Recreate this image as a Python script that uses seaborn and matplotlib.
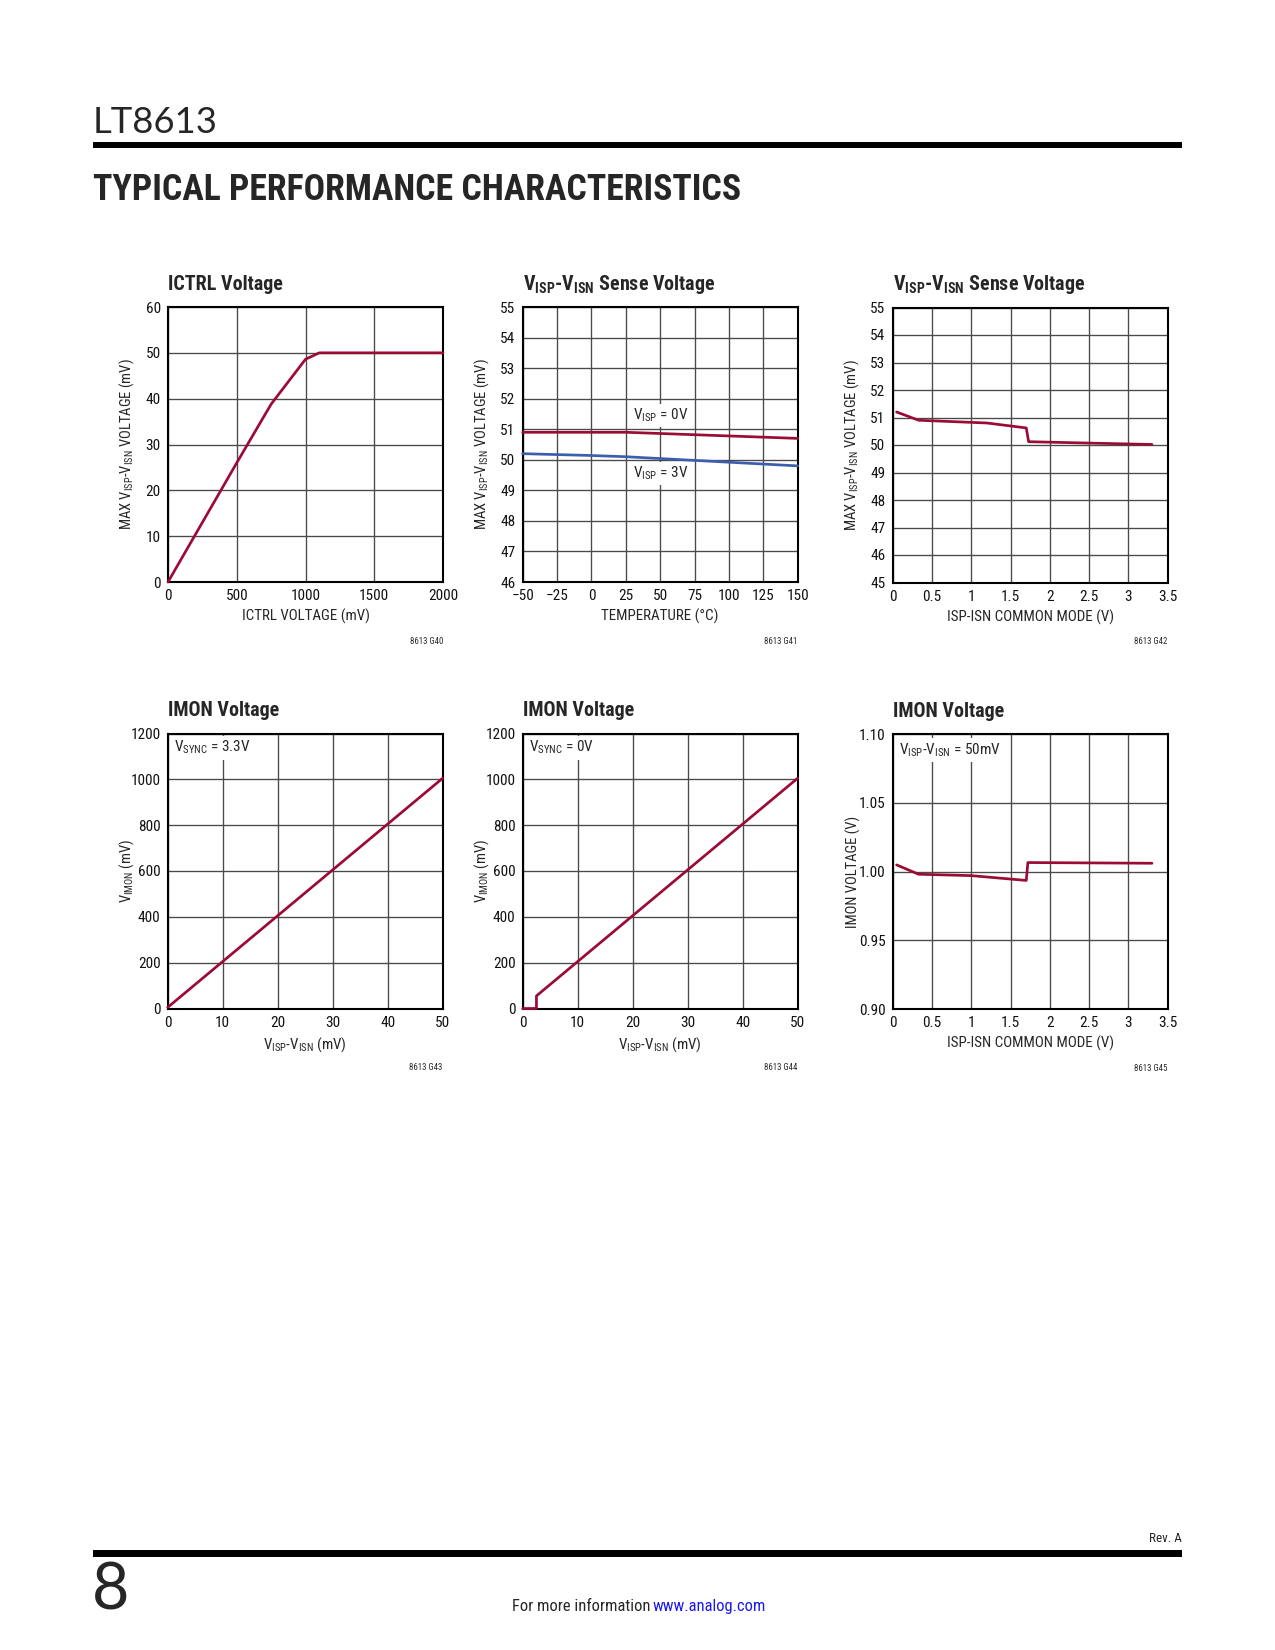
import matplotlib
matplotlib.use("Agg")
import matplotlib.pyplot as plt
from matplotlib.patches import Rectangle
import pandas as pd
import seaborn as sns

# ---- data ----
ictrl_mv = [0, 500, 750, 1000, 1100, 2000]
ictrl_sense_mv = [0, 26.0, 38.8, 48.6, 50.0, 50.0]

temp_c = [-50, -25, 0, 25, 50, 75, 100, 125, 150]
sense_visp0 = [50.9, 50.9, 50.9, 50.9, 50.86, 50.82, 50.78, 50.74, 50.70]
sense_visp3 = [50.2, 50.17, 50.14, 50.1, 50.04, 49.98, 49.92, 49.86, 49.80]

cm_v = [0.05, 0.33, 1.2, 1.7, 1.73, 2.5, 3.3]
sense_cm_mv = [51.2, 50.9, 50.8, 50.62, 50.12, 50.07, 50.02]

imon_in_mv = [0, 50]
imon_sync33_mv = [5, 1005]
imon_in0_mv = [0, 2.5, 2.5, 50]
imon_sync0_mv = [0, 0, 55, 1005]

imon_cm_v = [0.05, 0.33, 1.0, 1.7, 1.72, 3.3]
imon_cm_volt = [1.0048, 0.998, 0.997, 0.9935, 1.0065, 1.006]

RED = "#9a0b36"
BLUE = "#3d5dae"
W, H = 1275, 1650

sns.set_theme(style="whitegrid")
NARROW = ["Liberation Sans Narrow", "Roboto Condensed", "DejaVu Sans"]
plt.rcParams["font.family"] = NARROW
plt.rcParams["mathtext.default"] = "regular"

fig = plt.figure(figsize=(8.5, 11), dpi=150)
fig.patch.set_facecolor("white")


def fx(px):
    return px / W


def fy(py):
    return 1 - py / H


def make_ax(left, top, size=275):
    ax = fig.add_axes([fx(left), fy(top + size), size / W, size / H])
    ax.set_facecolor("white")
    ax.grid(True, color="#4a4a4a", linewidth=0.65)
    for s in ax.spines.values():
        s.set_color("black")
        s.set_linewidth(1.0)
    ax.tick_params(length=0, labelsize=7.3, pad=3.5, colors="#111111")
    return ax


def finish(ax, title, xlabel, ylabel, note, xlim, ylim, xticks, yticks,
           xtl=None, ytl=None):
    ax.set_xlim(*xlim)
    ax.set_ylim(*ylim)
    ax.set_xticks(xticks)
    ax.set_yticks(yticks)
    if xtl is not None:
        ax.set_xticklabels(xtl)
    if ytl is not None:
        ax.set_yticklabels(ytl)
    ax.set_xlabel(xlabel, fontsize=7.2)
    ax.set_ylabel(ylabel, fontsize=7.0)
    ax.xaxis.set_label_coords(0.5, -0.097)
    ax.yaxis.set_label_coords(-0.117, 0.5)
    ax.text(0, 1.063, title, transform=ax.transAxes, fontsize=9.6,
            fontweight="bold", ha="left", va="baseline")
    ax.text(1.0, -0.215, note, transform=ax.transAxes, fontsize=4.2,
            ha="right", va="center")
    if ax.get_legend() is not None:
        ax.get_legend().remove()


def line(ax, x, y, color=RED):
    df = pd.DataFrame({"x": x, "y": y})
    sns.lineplot(data=df, x="x", y="y", ax=ax, color=color, linewidth=1.3,
                 estimator=None, sort=False, zorder=3, clip_on=False)


vispvisn = r"$\mathregular{V_{ISP}}$-$\mathregular{V_{ISN}}$"
box = dict(facecolor="white", edgecolor="none", pad=1.5)

# ---- top row ----
ax1 = make_ax(168, 307)
line(ax1, ictrl_mv, ictrl_sense_mv)
finish(ax1, "ICTRL Voltage", "ICTRL VOLTAGE (mV)",
       "MAX " + vispvisn + " VOLTAGE (mV)", "8613 G40",
       (0, 2000), (0, 60), range(0, 2001, 500), range(0, 61, 10))

ax2 = make_ax(522.7, 307)
line(ax2, temp_c, sense_visp0, RED)
line(ax2, temp_c, sense_visp3, BLUE)
finish(ax2, vispvisn + " Sense Voltage", "TEMPERATURE (°C)",
       "MAX " + vispvisn + " VOLTAGE (mV)", "8613 G41",
       (-50, 150), (46, 55), temp_c, range(46, 56),
       xtl=[str(t).replace("-", "\u2212") for t in temp_c])
ax2.text(30, 51.45, r"$\mathregular{V_{ISP}}$ = 0V", fontsize=7.3,
         va="center", ha="left", bbox=box)
ax2.text(30, 49.55, r"$\mathregular{V_{ISP}}$ = 3V", fontsize=7.3,
         va="center", ha="left", bbox=box)

ax3 = make_ax(892.7, 307.5)
line(ax3, cm_v, sense_cm_mv)
cm_ticks = [0, 0.5, 1, 1.5, 2, 2.5, 3, 3.5]
cm_tl = ["0", "0.5", "1", "1.5", "2", "2.5", "3", "3.5"]
finish(ax3, vispvisn + " Sense Voltage", "ISP-ISN COMMON MODE (V)",
       "MAX " + vispvisn + " VOLTAGE (mV)", "8613 G42",
       (0, 3.5), (45, 55), cm_ticks, range(45, 56), xtl=cm_tl)

# ---- bottom row ----
imon_y = range(0, 1201, 200)
ax4 = make_ax(167.7, 733.5)
line(ax4, imon_in_mv, imon_sync33_mv)
finish(ax4, "IMON Voltage", vispvisn + " (mV)",
       r"$\mathregular{V_{IMON}}$ (mV)", "8613 G43",
       (0, 50), (0, 1200), range(0, 51, 10), imon_y)
ax4.text(1.2, 1138, r"$\mathregular{V_{SYNC}}$ = 3.3V", fontsize=7.3,
         va="center", ha="left", bbox=box)

ax5 = make_ax(522.7, 733.5)
line(ax5, imon_in0_mv, imon_sync0_mv)
finish(ax5, "IMON Voltage", vispvisn + " (mV)",
       r"$\mathregular{V_{IMON}}$ (mV)", "8613 G44",
       (0, 50), (0, 1200), range(0, 51, 10), imon_y)
ax5.text(1.2, 1138, r"$\mathregular{V_{SYNC}}$ = 0V", fontsize=7.3,
         va="center", ha="left", bbox=box)

ax6 = make_ax(892.7, 734)
line(ax6, imon_cm_v, imon_cm_volt)
finish(ax6, "IMON Voltage", "ISP-ISN COMMON MODE (V)",
       "IMON VOLTAGE (V)", "8613 G45",
       (0, 3.5), (0.9, 1.1), cm_ticks, [0.90, 0.95, 1.00, 1.05, 1.10],
       xtl=cm_tl, ytl=["0.90", "0.95", "1.00", "1.05", "1.10"])
ax6.text(0.08, 1.0885, vispvisn + " = 50mV", fontsize=7.3,
         va="center", ha="left", bbox=box)

# ---- page header / footer ----
for top, bot in [(141.7, 148.3), (1550, 1556.7)]:
    fig.patches.append(Rectangle((fx(93), fy(bot)), fx(1182) - fx(93),
                                 (bot - top) / H, transform=fig.transFigure,
                                 facecolor="black", edgecolor="none"))

fig.text(fx(93), fy(133), "LT8613", fontsize=17.5, family=["Lato", "DejaVu Sans"],
         fontweight="normal", va="baseline", ha="left")
fig.text(fx(93), fy(200), "TYPICAL PERFORMANCE CHARACTERISTICS", fontsize=17.2,
         family=NARROW, fontweight="bold",
         va="baseline", ha="left")
fig.text(fx(92), fy(1609), "8", fontsize=31, family=["Lato", "DejaVu Sans"],
         fontweight="normal", va="baseline", ha="left")
fig.text(fx(1182), fy(1542), "Rev. A", fontsize=6.3, ha="right", va="baseline")
fig.text(fx(650), fy(1611), "For more information", fontsize=7.9,
         ha="right", va="baseline")
fig.text(fx(653), fy(1611), "www.analog.com", fontsize=7.9, color="#1a1aee",
         ha="left", va="baseline")

fig.savefig("out.png", dpi=150, facecolor="white")
